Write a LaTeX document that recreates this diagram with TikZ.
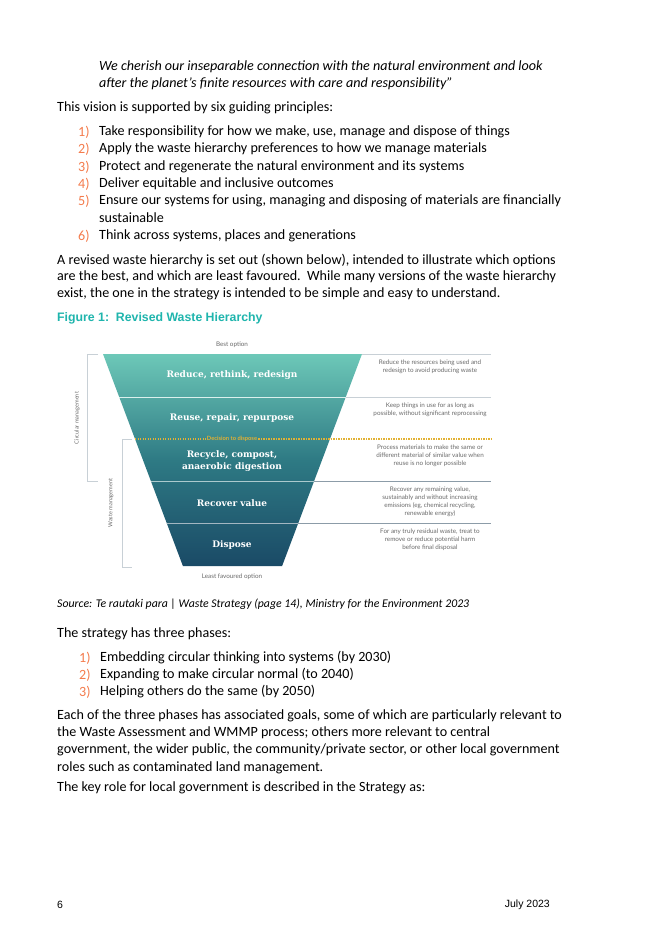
\documentclass[tikz,border=0pt]{standalone}
\usepackage{fontspec}
\setmainfont{Carlito}
\newfontfamily\arialf{Liberation Sans}
\newfontfamily\serifb{DejaVu Serif}
\newfontfamily\latof{Lato}
\usetikzlibrary{calc}
\definecolor{numc}{HTML}{F47B4C}
\definecolor{figc}{HTML}{1FB5AD}
\definecolor{topc}{HTML}{6DC8B8}
\definecolor{midc}{HTML}{2E7A84}
\definecolor{botc}{HTML}{1A4A66}
\definecolor{smallc}{HTML}{6A6A6A}
\definecolor{goldc}{HTML}{E2B133}
\definecolor{rulec}{HTML}{C8D0D6}
\definecolor{rule2}{HTML}{8C9CA8}
\begin{document}
\begin{tikzpicture}[x=1pt,y=-1pt,
  body/.style={anchor=west,inner sep=0pt,font=\fontsize{14.1}{16}\selectfont},
  numb/.style={body,text=numc},
  band/.style={font=\serifb\bfseries\fontsize{9}{11.5}\selectfont,text=white,align=center,inner sep=0pt},
  small/.style={font=\latof\fontsize{6.3}{8}\selectfont,text=smallc,align=center,inner sep=0pt},
  side/.style={font=\latof\fontsize{5.6}{7}\selectfont,text=smallc,inner sep=0pt,rotate=90},
  brk/.style={draw=rulec,line width=0.8pt}]
\useasboundingbox[fill=white] (0,0) rectangle (645,934);
% text top
\node[body,font=\itshape\fontsize{14.1}{16}\selectfont] (q1) at (99,67) {We cherish our inseparable connection with the natural environment and look};
\node[body,font=\itshape\fontsize{14.1}{16}\selectfont] (q2) at (99,84) {after the planet’s finite resources with care and responsibility”};
\node[body] (v) at (57,108) {This vision is supported by six guiding principles:};
\foreach \n/\y/\t in {1/132/{Take responsibility for how we make, use, manage and dispose of things},
 2/149/{Apply the waste hierarchy preferences to how we manage materials},
 3/167/{Protect and regenerate the natural environment and its systems},
 4/184/{Deliver equitable and inclusive outcomes},
 5/201/{Ensure our systems for using, managing and disposing of materials are financially},
 6/236/{Think across systems, places and generations}}{
 \node[numb] (n\n) at (78,\y) {\n)};
 \node[body] (t\n) at (99,\y) {\t};}
\node[body] (t5b) at (99,218) {sustainable};
\node[body] (p1) at (57,260) {A revised waste hierarchy is set out (shown below), intended to illustrate which options};
\node[body] (p2) at (57,277) {are the best, and which are least favoured.\ \ While many versions of the waste hierarchy};
\node[body] (p3) at (57,294) {exist, the one in the strategy is intended to be simple and easy to understand.};
\node[anchor=west,inner sep=0pt,font=\arialf\bfseries\fontsize{12.3}{14}\selectfont,text=figc] (fig) at (57,318) {Figure 1:\ \ Revised Waste Hierarchy};
% funnel
\shade[top color=topc,bottom color=botc,middle color=midc] (103,354) -- (362,354) -- (282.1,566) -- (182.9,566) -- cycle;
\draw[white!75!topc,line width=0.6pt] (119.2,397) -- (345.8,397);
\draw[white!60!midc,line width=0.6pt] (150.9,481) -- (314.1,481);
\draw[white!60!botc,line width=0.6pt] (166.7,523) -- (298.3,523);
\draw[rulec,line width=0.7pt] (362,354) -- (491,354);
\draw[rulec,line width=0.7pt] (345.8,397) -- (491,397);
\draw[rule2,line width=0.7pt] (314.1,481) -- (491,481);
\draw[rule2,line width=0.7pt] (298.3,523) -- (491,523);
\node[font=\latof\bfseries\fontsize{5.8}{7}\selectfont,text=goldc,inner sep=1pt] (dec) at (232,439) {Decision to dispose};
\draw[goldc,line width=1.2pt,dash pattern=on 1.2pt off 1.3pt] (135,439) -- (dec.west);
\draw[goldc,line width=1.2pt,dash pattern=on 1.2pt off 1.3pt] (dec.east) -- (491,439);
\node[band] (b1) at (232,375) {Reduce, rethink, redesign};
\node[band] (b2) at (232,418) {Reuse, repair, repurpose};
\node[band] (b3) at (232,461) {Recycle, compost,\\anaerobic digestion};
\node[band] (b4) at (232,503) {Recover value};
\node[band] (b5) at (232,545) {Dispose};
\node[small] (best) at (232,345) {Best option};
\node[small] (least) at (232,577) {Least favoured option};
\node[small] (r1) at (430,367) {Reduce the resources being used and\\redesign to avoid producing waste};
\node[small] (r2) at (430,410) {Keep things in use for as long as\\possible, without significant reprocessing};
\node[small] (r3) at (430,456) {Process materials to make the same or\\different material of similar value when\\reuse is no longer possible};
\node[small] (r4) at (430,502) {Recover any remaining value,\\sustainably and without increasing\\emissions (eg, chemical recycling,\\renewable energy)};
\node[small] (r5) at (430,540) {For any truly residual waste, treat to\\remove or reduce potential harm\\before final disposal};
% brackets
\draw[brk] (98,354) -- (87,354) -- (87,481) -- (98,481);
\draw[brk] (132,439) -- (122,439) -- (122,567) -- (132,567);
\node[side] (cm) at (77,418) {Circular management};
\node[side] (wm) at (111,503) {Waste management};
% lower text
\node[body,font=\itshape\fontsize{11.8}{13}\selectfont] (src) at (57,604) {Source: Te rautaki para | Waste Strategy (page 14), Ministry for the Environment 2023};
\node[body] (s0) at (57,634) {The strategy has three phases:};
\foreach \n/\y/\t in {1/658/{Embedding circular thinking into systems (by 2030)},
 2/675/{Expanding to make circular normal (to 2040)},
 3/692/{Helping others do the same (by 2050)}}{
 \node[numb] (m\n) at (79,\y) {\n)};
 \node[body] (u\n) at (100,\y) {\t};}
\node[body] (e1) at (57,716) {Each of the three phases has associated goals, some of which are particularly relevant to};
\node[body] (e2) at (57,733) {the Waste Assessment and WMMP process; others more relevant to central};
\node[body] (e3) at (57,750) {government, the wider public, the community/private sector, or other local government};
\node[body] (e4) at (57,768) {roles such as contaminated land management.};
\node[body] (k) at (57,788) {The key role for local government is described in the Strategy as:};
\node[anchor=west,inner sep=0pt,font=\arialf\fontsize{10.5}{12}\selectfont] (pg) at (57,905) {6};
\node[anchor=east,inner sep=0pt,font=\arialf\fontsize{10.5}{12}\selectfont] (dt) at (550,905) {July 2023};
\end{tikzpicture}
\end{document}
